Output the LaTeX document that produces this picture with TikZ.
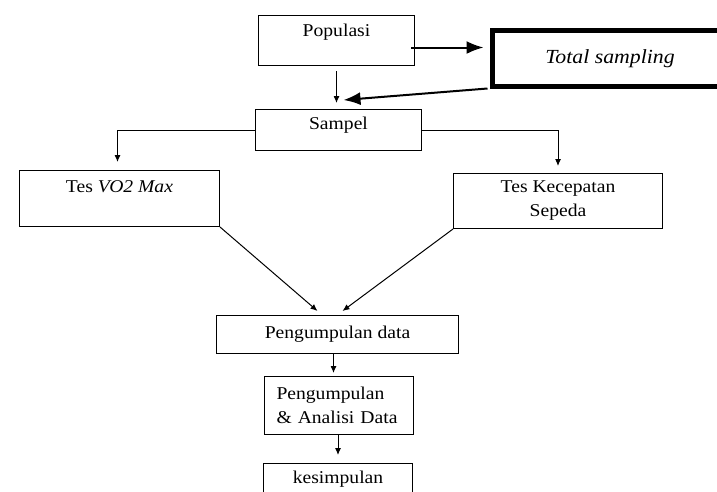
\documentclass[tikz,border=0pt]{standalone}
\usepackage{fontspec}
\setmainfont{Liberation Serif}[FakeStretch=1.09]
\usetikzlibrary{arrows.meta}
\begin{document}
\begin{tikzpicture}[x=1pt,y=-1pt,
  box/.style={draw, line width=1pt, inner sep=0pt, anchor=north west, font=\fontsize{18}{24}\selectfont},
  thick box/.style={draw, line width=5pt, inner sep=0pt, font=\fontsize{20}{24}\selectfont\itshape},
  arr/.style={line width=1pt, -{Latex[length=7pt,width=6pt]}},
  bigarr/.style={line width=2pt, -{Latex[length=17pt,width=13pt]}}]
\useasboundingbox (0,0) rectangle (717,491);
\clip (0,0) rectangle (717,491);
\fill[white] (0,0) rectangle (717,491);
% nodes
\node[box, minimum width=156pt, text height=21pt, text depth=29pt] (pop) at (258,15) {Populasi};
\node[thick box, minimum width=235pt, minimum height=55.5pt] (tot) at (610,58.25) {Total sampling};
\node[box, minimum width=166pt, text height=20pt, text depth=21pt] (sam) at (255,109) {Sampel};
\node[box, minimum width=200pt, text height=22pt, text depth=34pt] (vo) at (19,170) {Tes \textit{VO2 Max}};
\node[box, minimum width=209pt, minimum height=55pt, align=center] (kec) at (453,173) {Tes Kecepatan\\Sepeda};
\node[box, minimum width=242pt, minimum height=38pt] (pd) at (216,315) {Pengumpulan data};
\node[box, text width=125pt, inner xsep=12pt, minimum height=58pt, align=left] (an) at (264,376) {Pengumpulan\\\& Analisi Data};
\node[box, minimum width=149pt, text height=20pt, text depth=24pt] (kes) at (263,463) {kesimpulan};
% connectors
\draw[arr, shorten <=5pt, shorten >=6pt] (pop.south) -- (pop.south |- sam.north);
\draw[bigarr, shorten >=2.5pt] ([xshift=-4pt,yshift=-7pt]pop.east) -- ([xshift=-4pt,yshift=-7pt]pop.east -| tot.west);
\draw[bigarr] ([xshift=-2.5pt]tot.south west) -- ([xshift=5pt,yshift=9pt]sam.north);
\draw[arr] (sam.west) -| ([xshift=-2pt,yshift=8pt]vo.north);
\draw[arr] (sam.east) -| ([yshift=7pt]kec.north);
\draw[arr] (vo.south east) -- ([xshift=-20pt,yshift=4pt]pd.north);
\draw[arr] (kec.south west) -- ([xshift=5pt,yshift=4pt]pd.north);
\draw[arr, shorten >=3pt] ([xshift=-4pt]pd.south) -- ([xshift=-4pt]pd.south |- an.north);
\draw[arr, shorten >=8pt] ([xshift=-1pt]an.south) -- ([xshift=-1pt]an.south |- kes.north);
\end{tikzpicture}
\end{document}
